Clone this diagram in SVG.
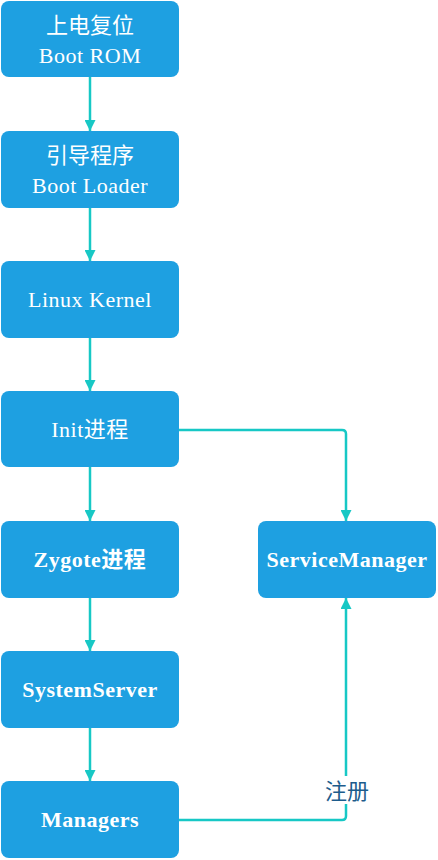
<svg xmlns="http://www.w3.org/2000/svg" width="438" height="860" viewBox="0 0 438 860">
<defs>
<style>
.box{fill:#1ea0e1;}
.t{fill:#ffffff;font-family:"Liberation Serif","Noto Sans CJK SC",serif;font-size:22px;letter-spacing:0.5px;text-anchor:middle;}
.b{font-weight:bold;}
.cn{font-family:"Noto Sans CJK SC",sans-serif;font-size:22px;letter-spacing:0;}
.edge{fill:none;stroke:#17c8c5;stroke-width:2.5;}
.lbl{fill:#1d5c8c;font-family:"Noto Sans CJK SC",sans-serif;font-size:22px;text-anchor:middle;}
</style>
<marker id="arr" viewBox="0 0 10 10" refX="10" refY="5" markerWidth="11" markerHeight="11" markerUnits="userSpaceOnUse" orient="auto">
<path d="M0,0 L10,5 L0,10 Z" fill="#17c8c5"/>
</marker>
</defs>
<rect width="438" height="860" fill="#ffffff"/>
<g id="connectors">
<path class="edge" d="M90,77 V131" marker-end="url(#arr)"/>
<path class="edge" d="M90,208 V261" marker-end="url(#arr)"/>
<path class="edge" d="M90,338 V391" marker-end="url(#arr)"/>
<path class="edge" d="M90,467 V521" marker-end="url(#arr)"/>
<path class="edge" d="M90,598 V651" marker-end="url(#arr)"/>
<path class="edge" d="M90,728 V781" marker-end="url(#arr)"/>
<path class="edge" d="M179,430 H342 Q346,430 346,434 V521" marker-end="url(#arr)"/>
<path class="edge" d="M179,820 H342 Q346,820 346,816 V598" marker-end="url(#arr)"/>
<rect x="322" y="776" width="50" height="28" fill="#ffffff"/>
<text class="lbl" x="347" y="799">注册</text>
</g>
<g id="boot-rom">
<rect class="box" x="1" y="1" width="178" height="76" rx="8"/>
<text class="t cn" x="90" y="33">上电复位</text>
<text class="t" x="90" y="63">Boot ROM</text>
</g>
<g id="boot-loader">
<rect class="box" x="1" y="131" width="178" height="77" rx="8"/>
<text class="t cn" x="90" y="163">引导程序</text>
<text class="t" x="90" y="193">Boot Loader</text>
</g>
<g id="linux-kernel">
<rect class="box" x="1" y="261" width="178" height="77" rx="8"/>
<text class="t" x="90" y="307">Linux Kernel</text>
</g>
<g id="init">
<rect class="box" x="1" y="391" width="178" height="76" rx="8"/>
<text class="t" x="90" y="437">Init进程</text>
</g>
<g id="zygote">
<rect class="box" x="1" y="521" width="178" height="77" rx="8"/>
<text class="t b" x="90" y="567">Zygote进程</text>
</g>
<g id="system-server">
<rect class="box" x="1" y="651" width="178" height="77" rx="8"/>
<text class="t b" x="90" y="697">SystemServer</text>
</g>
<g id="managers">
<rect class="box" x="1" y="781" width="178" height="77" rx="8"/>
<text class="t b" x="90" y="827">Managers</text>
</g>
<g id="service-manager">
<rect class="box" x="258" y="521" width="178" height="77" rx="8"/>
<text class="t b" x="347" y="567">ServiceManager</text>
</g>
</svg>
